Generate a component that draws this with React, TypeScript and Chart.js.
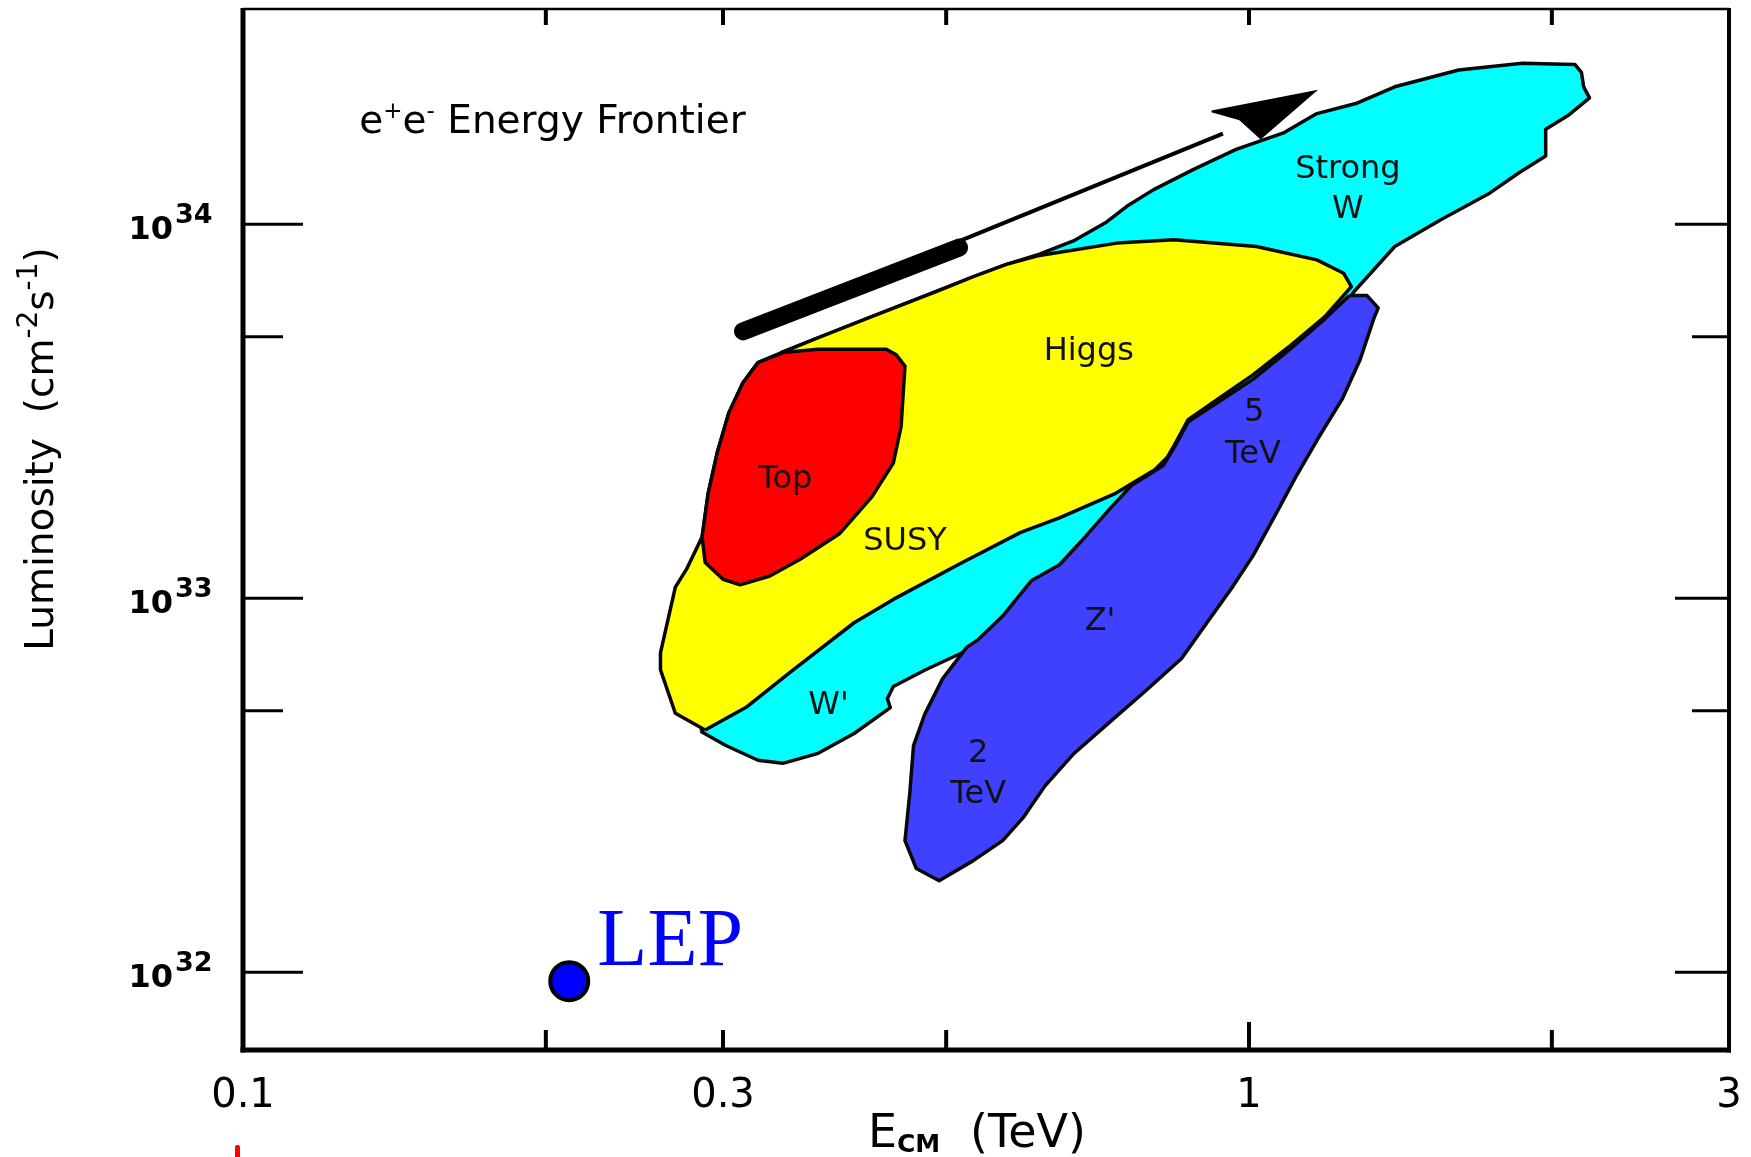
import React, { useEffect, useRef } from "react";
import { Chart, registerables } from "chart.js";

Chart.register(...registerables);

// ---------- axes ----------
const xMin = 0.1;
const xMax = 3;
const yMin = 6.2e31;
const yMax = 3.76e34;

const xTickValues = [0.1, 0.3, 1, 3];
const xTickLabels = ["0.1", "0.3", "1", "3"];
const xMarkValues = [0.2, 0.3, 0.5, 1, 2];
const yTickValues = [1e32, 5e32, 1e33, 5e33, 1e34];
const yTickExponents = ["32", "", "33", "", "34"];

const xTitleMain = "E";
const xTitleSub = "CM";
const xTitleUnit = "(TeV)";
const yTitleParts = ["Luminosity  (cm", "-2", "s", "-1", ")"];

// ---------- regions (E in TeV, L in cm^-2 s^-1) ----------
const cyanE = [0.285, 0.302, 0.325, 0.344, 0.373, 0.405, 0.44, 0.437, 0.443, 0.477, 0.518, 0.544, 0.667, 0.884, 1.141, 1.27, 1.396, 1.551, 1.736, 1.855, 1.972, 1.972, 2.081, 2.18, 2.151, 2.14, 2.108, 1.87, 1.616, 1.396, 1.277, 1.168, 1.084, 0.971, 0.881, 0.804, 0.756, 0.722, 0.669, 0.619, 0.574, 0.493, 0.343, 0.31, 0.295, 0.3];
const cyanL = [4.41e32, 4.04e32, 3.69e32, 3.62e32, 3.85e32, 4.35e32, 5.1e32, 5.39e32, 5.81e32, 6.44e32, 7.14e32, 7.7e32, 9.73e32, 2.072e33, 4.12e33, 6.577e33, 8.716e33, 1.028e34, 1.212e34, 1.372e34, 1.521e34, 1.794e34, 1.962e34, 2.175e34, 2.329e34, 2.547e34, 2.673e34, 2.692e34, 2.582e34, 2.329e34, 2.101e34, 1.975e34, 1.757e34, 1.585e34, 1.401e34, 1.237e34, 1.116e34, 1.014e34, 9.02e33, 8.31e33, 7.81e33, 6.67e33, 4.54e33, 1.806e33, 8.48e32, 5.24e32];

const yellowE = [0.288, 0.269, 0.26, 0.26, 0.269, 0.276, 0.286, 0.29, 0.296, 0.304, 0.314, 0.325, 0.343, 0.37, 0.421, 0.493, 0.532, 0.574, 0.619, 0.739, 0.842, 1.017, 1.168, 1.242, 1.264, 1.189, 1.095, 1.009, 0.93, 0.87, 0.844, 0.829, 0.806, 0.737, 0.648, 0.593, 0.516, 0.443, 0.405, 0.349, 0.317];
const yellowL = [4.444e32, 4.927e32, 6.44e32, 7.14e32, 1.071e33, 1.196e33, 1.459e33, 1.908e33, 2.444e33, 3.13e33, 3.768e33, 4.265e33, 4.537e33, 4.927e33, 5.652e33, 6.668e33, 7.239e33, 7.808e33, 8.251e33, 8.899e33, 9.083e33, 8.716e33, 8.027e33, 7.391e33, 6.805e33, 5.652e33, 4.696e33, 3.954e33, 3.4e33, 3.003e33, 2.582e33, 2.377e33, 2.204e33, 1.908e33, 1.64e33, 1.5e33, 1.237e33, 9.93e32, 8.6e32, 6.31e32, 5.13e32];

const redE = [0.325, 0.344, 0.373, 0.436, 0.446, 0.455, 0.451, 0.443, 0.422, 0.392, 0.358, 0.334, 0.312, 0.3, 0.288, 0.286, 0.29, 0.296, 0.304, 0.314];
const redL = [4.265e33, 4.537e33, 4.632e33, 4.632e33, 4.474e33, 4.177e33, 2.882e33, 2.297e33, 1.869e33, 1.49e33, 1.272e33, 1.147e33, 1.086e33, 1.124e33, 1.246e33, 1.459e33, 1.908e33, 2.444e33, 3.13e33, 3.768e33];

const blueE = [1.258, 1.31, 1.344, 1.33, 1.29, 1.239, 1.171, 1.112, 1.06, 1.009, 0.961, 0.913, 0.857, 0.789, 0.727, 0.67, 0.627, 0.597, 0.569, 0.532, 0.492, 0.467, 0.455, 0.46, 0.464, 0.476, 0.496, 0.524, 0.538, 0.569, 0.608, 0.648, 0.681, 0.727, 0.764, 0.822, 0.844, 0.87, 0.93, 1.009, 1.095, 1.189];
const blueL = [6.442e33, 6.442e33, 5.972e33, 5.575e33, 4.353e33, 3.423e33, 2.673e33, 2.101e33, 1.652e33, 1.298e33, 1.064e33, 8.777e32, 6.901e32, 5.652e32, 4.664e32, 3.847e32, 3.151e32, 2.601e32, 2.25e32, 1.989e32, 1.757e32, 1.895e32, 2.25e32, 3.003e32, 4.036e32, 4.893e32, 6.097e32, 7.39e32, 7.754e32, 8.96e32, 1.116e33, 1.229e33, 1.42e33, 1.733e33, 2.002e33, 2.265e33, 2.547e33, 2.962e33, 3.33e33, 3.847e33, 4.599e33, 5.575e33];

// ---------- arrow ----------
const arrowBarE = [0.314, 0.515];
const arrowBarL = [5.17e33, 8.657e33];
const arrowShaftE = [0.516, 0.942];
const arrowShaftL = [9.02e33, 1.745e34];
const arrowHeadE = [0.918, 1.162, 1.027, 0.979];
const arrowHeadL = [2.002e34, 2.265e34, 1.698e34, 1.908e34];

// ---------- LEP ----------
const lepE = [0.211];
const lepL = [9.47e31];
const lepLabel = "LEP";
const lepLabelE = 0.225;
const lepLabelL = 1.049e32;

// ---------- annotations ----------
const regionLabelTexts = ["Strong", "W", "Higgs", "Top", "SUSY", "5", "TeV", "Z'", "2", "TeV", "W'"];
const regionLabelE = [1.254, 1.254, 0.693, 0.346, 0.455, 1.012, 1.009, 0.711, 0.538, 0.538, 0.382];
const regionLabelL = [1.401e34, 1.094e34, 4.568e33, 2.072e33, 1.42e33, 3.13e33, 2.427e33, 8.656e32, 3.847e32, 2.982e32, 5.169e32];

const titleParts = ["e", "+", "e", "-", " Energy Frontier"];
const titleE = 0.1305;
const titleL = 1.757e34;

const SANS = '"DejaVu Sans", Verdana, sans-serif';

function closed(E: number[], L: number[]) {
  const pts = E.map((x, i) => ({ x, y: L[i] }));
  pts.push({ x: E[0], y: L[0] });
  return pts;
}
function open(E: number[], L: number[]) {
  return E.map((x, i) => ({ x, y: L[i] }));
}

function regionDataset(label: string, E: number[], L: number[], color: string) {
  return {
    type: "line" as const,
    label,
    data: closed(E, L),
    fill: "shape",
    backgroundColor: color,
    borderColor: "#080808",
    borderWidth: 3.5,
    borderJoinStyle: "round" as const,
    pointRadius: 0,
    tension: 0,
  };
}

type Piece = { t: string; font: string; dy: number };

function piecesWidth(ctx: CanvasRenderingContext2D, pieces: Piece[]) {
  let w = 0;
  for (const p of pieces) {
    ctx.font = p.font;
    w += ctx.measureText(p.t).width;
  }
  return w;
}
function drawPieces(ctx: CanvasRenderingContext2D, pieces: Piece[], x: number, y: number) {
  let cx = x;
  for (const p of pieces) {
    ctx.font = p.font;
    ctx.fillText(p.t, cx, y + p.dy);
    cx += ctx.measureText(p.t).width;
  }
}

const labelsPlugin = {
  id: "regionLabels",
  afterDatasetsDraw(chart: any) {
    const ctx: CanvasRenderingContext2D = chart.ctx;
    const xs = chart.scales.x;
    const ys = chart.scales.y;
    ctx.save();
    ctx.fillStyle = "#111";
    ctx.textAlign = "center";
    ctx.textBaseline = "middle";
    ctx.font = `32px ${SANS}`;
    regionLabelTexts.forEach((t, i) => {
      ctx.fillText(t, xs.getPixelForValue(regionLabelE[i]), ys.getPixelForValue(regionLabelL[i]));
    });

    // title
    ctx.textAlign = "left";
    ctx.textBaseline = "alphabetic";
    ctx.fillStyle = "#000";
    const big = `39px ${SANS}`;
    const sup = `23px ${SANS}`;
    const tp: Piece[] = [
      { t: titleParts[0], font: big, dy: 0 },
      { t: titleParts[1], font: sup, dy: -15 },
      { t: titleParts[2], font: big, dy: 0 },
      { t: titleParts[3], font: sup, dy: -15 },
      { t: titleParts[4], font: big, dy: 0 },
    ];
    drawPieces(ctx, tp, xs.getPixelForValue(titleE), ys.getPixelForValue(titleL));

    // LEP label
    ctx.fillStyle = "#0000ff";
    ctx.font = '82px "Liberation Serif", "Times New Roman", serif';
    ctx.fillText(lepLabel, xs.getPixelForValue(lepLabelE), ys.getPixelForValue(lepLabelL));
    ctx.restore();
  },
};

const framePlugin = {
  id: "frameAndAxes",
  afterDraw(chart: any) {
    const ctx: CanvasRenderingContext2D = chart.ctx;
    const { left, right, top, bottom } = chart.chartArea;
    const xs = chart.scales.x;
    const ys = chart.scales.y;
    const line = (x1: number, y1: number, x2: number, y2: number, w: number) => {
      ctx.lineWidth = w;
      ctx.beginPath();
      ctx.moveTo(x1, y1);
      ctx.lineTo(x2, y2);
      ctx.stroke();
    };
    ctx.save();
    ctx.strokeStyle = "#000";
    ctx.lineCap = "butt";
    // frame
    line(left, top - 1, left, bottom + 2.5, 5);
    line(left - 2.5, bottom, right + 2, bottom, 5);
    line(left, top, right, top, 2.5);
    line(right, top - 1, right, bottom + 2.5, 4);

    // y tick marks
    yTickValues.forEach((v, i) => {
      const py = ys.getPixelForValue(v);
      const major = yTickExponents[i] !== "";
      line(left, py, left + (major ? 60 : 40), py, 3);
      line(right, py, right - (major ? 54 : 37), py, 3);
    });
    // x tick marks
    xMarkValues.forEach((v) => {
      const px = xs.getPixelForValue(v);
      line(px, top, px, top + 16, 4);
      line(px, bottom, px, bottom - (v === 1 ? 28 : 20), 4);
    });

    // x tick labels
    ctx.fillStyle = "#000";
    ctx.textAlign = "center";
    ctx.textBaseline = "alphabetic";
    ctx.font = `40px ${SANS}`;
    xTickValues.forEach((v, i) => {
      ctx.fillText(xTickLabels[i], xs.getPixelForValue(v), bottom + 57);
    });

    // y tick labels 10^n
    yTickValues.forEach((v, i) => {
      const e = yTickExponents[i];
      if (!e) return;
      const py = ys.getPixelForValue(v);
      ctx.font = `bold 32px ${SANS}`;
      ctx.textAlign = "right";
      ctx.fillText("10", left - 70, py + 15);
      ctx.font = `bold 27px ${SANS}`;
      ctx.textAlign = "left";
      ctx.fillText(e, left - 68, py - 1);
    });

    // x title
    ctx.textAlign = "left";
    const cx = (left + right) / 2;
    ctx.font = `46px ${SANS}`;
    ctx.fillText(xTitleMain, cx - 118, bottom + 97);
    ctx.font = `bold 25px ${SANS}`;
    ctx.fillText(xTitleSub, cx - 89, bottom + 102);
    ctx.font = `46px ${SANS}`;
    ctx.fillText(xTitleUnit, cx - 16, bottom + 97);

    // y title (rotated)
    const big = `39px ${SANS}`;
    const sup = `28px ${SANS}`;
    const yp: Piece[] = [
      { t: yTitleParts[0], font: big, dy: 0 },
      { t: yTitleParts[1], font: sup, dy: -16 },
      { t: yTitleParts[2], font: big, dy: 0 },
      { t: yTitleParts[3], font: sup, dy: -16 },
      { t: yTitleParts[4], font: big, dy: 0 },
    ];
    const w = piecesWidth(ctx, yp);
    ctx.translate(left - 190, top + 440);
    ctx.rotate(-Math.PI / 2);
    drawPieces(ctx, yp, -w / 2, 0);
    ctx.restore();
  },
};

export default function App() {
  const ref = useRef<HTMLCanvasElement>(null);
  useEffect(() => {
    if (!ref.current) return;
    const chart = new Chart(ref.current, {
      type: "line",
      data: {
        datasets: [
          {
            type: "line",
            label: "LEP",
            data: open(lepE, lepL),
            showLine: false,
            pointRadius: 19,
            pointBackgroundColor: "#0000ff",
            pointBorderColor: "#000",
            pointBorderWidth: 4,
          },
          {
            type: "line",
            label: "arrow head",
            data: closed(arrowHeadE, arrowHeadL),
            fill: "shape",
            backgroundColor: "#000",
            borderColor: "#000",
            borderWidth: 2,
            pointRadius: 0,
          },
          {
            type: "line",
            label: "arrow shaft",
            data: open(arrowShaftE, arrowShaftL),
            borderColor: "#000",
            borderWidth: 4,
            pointRadius: 0,
            fill: false,
          },
          {
            type: "line",
            label: "arrow bar",
            data: open(arrowBarE, arrowBarL),
            borderColor: "#000",
            borderWidth: 18,
            borderCapStyle: "round",
            pointRadius: 0,
            fill: false,
          },
          regionDataset("Z'", blueE, blueL, "#4040ff"),
          regionDataset("Top", redE, redL, "#ff0000"),
          regionDataset("Higgs / SUSY", yellowE, yellowL, "#ffff00"),
          regionDataset("Strong W / W'", cyanE, cyanL, "#00ffff"),
        ] as any,
      },
      options: {
        responsive: false,
        devicePixelRatio: 1,
        animation: false,
        events: [],
        layout: { autoPadding: false, padding: { left: 243, right: 22, top: 9, bottom: 107 } },
        scales: {
          x: { type: "logarithmic", min: xMin, max: xMax, display: false },
          y: { type: "logarithmic", min: yMin, max: yMax, display: false },
        },
        plugins: {
          legend: { display: false },
          tooltip: { enabled: false },
        },
      },
      plugins: [labelsPlugin, framePlugin],
    });
    return () => chart.destroy();
  }, []);

  return (
    <div
      style={{
        position: "absolute",
        left: 0,
        top: 0,
        width: 1751,
        height: 1157,
        background: "#fff",
        overflow: "hidden",
      }}
    >
      <canvas ref={ref} width={1751} height={1157} style={{ width: 1751, height: 1157, display: "block" }} />
      <div
        style={{
          position: "absolute",
          left: 235,
          top: 1145,
          width: 5,
          height: 14,
          background: "#ff0000",
          borderRadius: 2,
        }}
      />
    </div>
  );
}
